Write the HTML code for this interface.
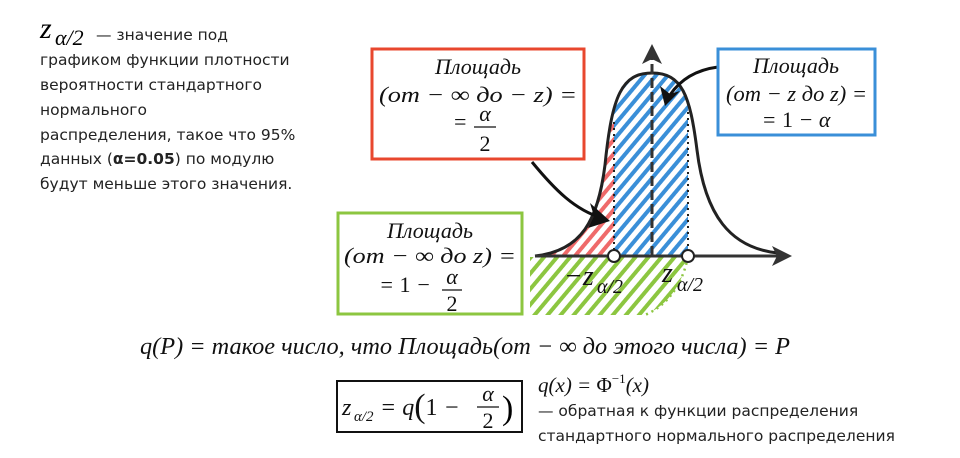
<!DOCTYPE html>
<html><head><meta charset="utf-8"><style>
body{margin:0;background:#fff;width:960px;height:453px;overflow:hidden}
svg text{font-family:"Liberation Serif","DejaVu Serif",serif}
.s{font-family:"DejaVu Sans","Liberation Sans",sans-serif;font-size:15.5px;fill:#222;font-style:normal}
.m{font-style:italic;font-size:22px;fill:#111}
</style></head><body>
<svg width="960" height="453" viewBox="0 0 960 453" xmlns="http://www.w3.org/2000/svg">
<defs>
<pattern id="hb" width="9" height="9" patternUnits="userSpaceOnUse" patternTransform="rotate(40)"><rect width="4" height="9" fill="#3a8fd8"/></pattern>
<pattern id="hr" width="9" height="9" patternUnits="userSpaceOnUse" patternTransform="rotate(40)"><rect width="4" height="9" fill="#ef6a6a"/></pattern>
<pattern id="hg" width="10" height="10" patternUnits="userSpaceOnUse" patternTransform="rotate(40)"><rect width="4" height="10" fill="#8cc640"/></pattern>
<clipPath id="cu"><path d="M535,256 C582,251 598,220 605,165 C612,95 622,73 652,73 C682,73 690,95 697,150 C705,215 730,248 778,253 L778,256Z"/></clipPath>
</defs>
<!-- left text -->
<text x="40" y="38" style="font-size:30px;font-style:italic">z</text>
<text x="55" y="45" style="font-size:22px;font-style:italic">α/2</text>
<text x="96" y="40" class="s">— значение  под</text>
<text x="40" y="65" class="s">графиком функции плотности</text>
<text x="40" y="90" class="s">вероятности стандартного</text>
<text x="40" y="115" class="s">нормального</text>
<text x="40" y="140" class="s">распределения, такое что 95%</text>
<text x="40" y="164" class="s">данных (<tspan font-weight="bold">α=0.05</tspan>) по модулю</text>
<text x="40" y="189" class="s">будут меньше этого значения.</text>
<!-- fills -->
<g clip-path="url(#cu)">
<rect x="535" y="60" width="79" height="200" fill="url(#hr)"/>
<rect x="614" y="60" width="74" height="200" fill="url(#hb)"/>
</g>
<path d="M530,257 L688,257 C682,285 668,305 645,315 L530,315Z" fill="url(#hg)"/>
<path d="M688,257 C682,285 668,305 645,315" fill="none" stroke="#8cc640" stroke-width="2.5" stroke-dasharray="2,4"/>
<line x1="614" y1="122" x2="614" y2="256" stroke="#222" stroke-width="2" stroke-dasharray="2,4"/>
<line x1="688" y1="112" x2="688" y2="256" stroke="#222" stroke-width="2" stroke-dasharray="2,4"/>
<path d="M535,256 C582,251 598,220 605,165 C612,95 622,73 652,73 C682,73 690,95 697,150 C705,215 730,248 778,253" fill="none" stroke="#222" stroke-width="3"/>
<line x1="535" y1="256" x2="780" y2="256" stroke="#333" stroke-width="3"/>
<path d="M792,256 L772,246 L777,256 L772,266Z" fill="#333"/>
<line x1="652" y1="256" x2="652" y2="55" stroke="#333" stroke-width="3" stroke-dasharray="10,4"/>
<path d="M652,44 L642,64 L652,59 L662,64Z" fill="#333"/>
<circle cx="614" cy="256" r="6" fill="#fff" stroke="#222" stroke-width="2"/>
<circle cx="688" cy="256" r="6" fill="#fff" stroke="#222" stroke-width="2"/>
<text x="564" y="285" class="m" style="font-size:28px">−z</text>
<text x="597" y="293" class="m" style="font-size:20px">α/2</text>
<text x="662" y="282" class="m" style="font-size:28px">z</text>
<text x="677" y="291" class="m" style="font-size:20px">α/2</text>
<!-- arrows -->
<path d="M532,162 C555,190 575,210 602,218" fill="none" stroke="#111" stroke-width="3"/>
<path d="M610,221 L590,203 L594,216 L588,228Z" fill="#111"/>
<path d="M718,67 C695,70 680,80 670,95" fill="none" stroke="#111" stroke-width="3"/>
<path d="M665,106 L660,86 L670,94 L680,91Z" fill="#111"/>
<!-- red box -->
<rect x="372" y="49" width="212" height="110" fill="#fff" stroke="#e8472e" stroke-width="3"/>
<text x="478" y="74" class="m" text-anchor="middle">Площадь</text>
<text x="379" y="102" class="m" textLength="198" lengthAdjust="spacingAndGlyphs">(от − ∞ до  − z) =</text>
<text x="460" y="129" class="m" text-anchor="middle" font-style="normal">=</text>
<text x="485" y="121" class="m" text-anchor="middle">α</text>
<line x1="474" y1="127" x2="496" y2="127" stroke="#111" stroke-width="1.3"/>
<text x="485" y="151" class="m" text-anchor="middle" style="font-style:normal">2</text>
<!-- blue box -->
<rect x="718" y="49" width="157" height="86" fill="#fff" stroke="#3a8fd8" stroke-width="3"/>
<text x="796" y="73" class="m" text-anchor="middle">Площадь</text>
<text x="726" y="101" class="m" textLength="141" lengthAdjust="spacingAndGlyphs">(от − z до z) =</text>
<text x="796" y="127" class="m" text-anchor="middle">= <tspan font-style="normal">1</tspan> − α</text>
<!-- green box -->
<rect x="338" y="213" width="184" height="101" fill="#fff" stroke="#8cc640" stroke-width="3"/>
<text x="430" y="238" class="m" text-anchor="middle">Площадь</text>
<text x="344" y="263" class="m" textLength="172" lengthAdjust="spacingAndGlyphs">(от − ∞ до z) =</text>
<text x="405" y="292" class="m" text-anchor="middle">= <tspan font-style="normal">1</tspan> −</text>
<text x="452" y="284" class="m" text-anchor="middle">α</text>
<line x1="442" y1="290" x2="462" y2="290" stroke="#111" stroke-width="1.3"/>
<text x="452" y="311" class="m" text-anchor="middle" style="font-style:normal">2</text>
<!-- formula line -->
<text x="140" y="354" class="m" style="font-size:24px" textLength="650" lengthAdjust="spacingAndGlyphs">q(P) = такое число, что Площадь(от − ∞ до этого числа) = P</text>
<!-- boxed formula -->
<rect x="337" y="381" width="185" height="51" fill="none" stroke="#111" stroke-width="2"/>
<text x="342" y="415" class="m" style="font-size:24px">z</text>
<text x="354" y="421" class="m" style="font-size:15px">α/2</text>
<text x="380" y="415" class="m" style="font-size:24px">= q<tspan font-style="normal" font-size="34" dy="2">(</tspan><tspan font-style="normal" dy="-2">1</tspan> −</text>
<text x="488" y="401" class="m" text-anchor="middle">α</text>
<line x1="477" y1="407" x2="499" y2="407" stroke="#111" stroke-width="1.3"/>
<text x="488" y="428" class="m" text-anchor="middle" style="font-style:normal">2</text>
<text x="502" y="419" style="font-size:34px">)</text>
<text x="538" y="392" class="m" style="font-size:21px">q(x) = <tspan font-style="normal">Φ</tspan><tspan font-size="13" dy="-9" font-style="normal">−1</tspan><tspan dy="9">(x)</tspan></text>
<text x="538" y="416" class="s">— обратная к функции распределения</text>
<text x="538" y="441" class="s">стандартного нормального распределения</text>
</svg>
</body></html>
